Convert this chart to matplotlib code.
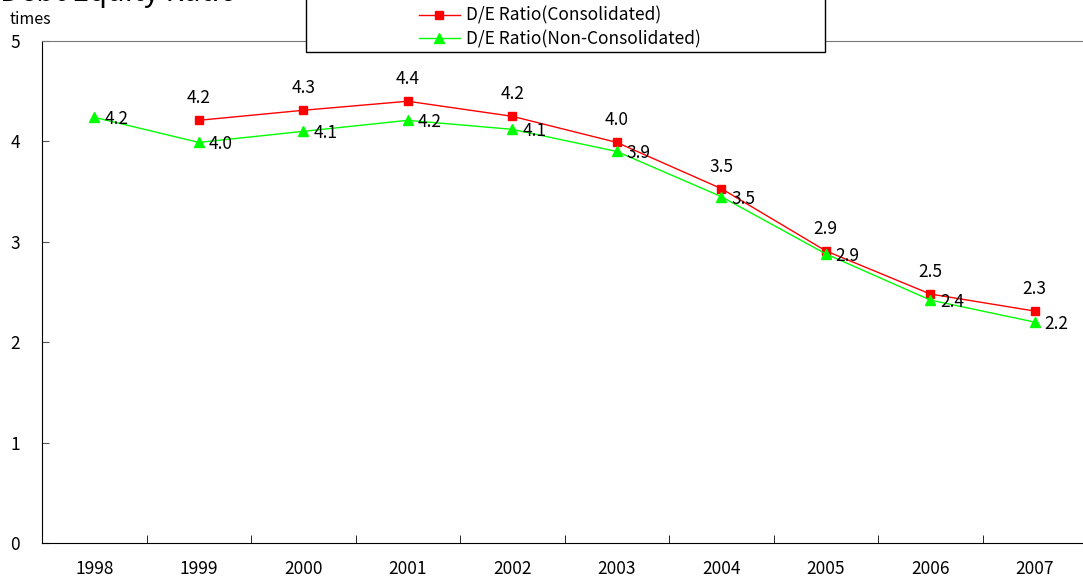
import matplotlib
matplotlib.use("Agg")
import matplotlib.pyplot as plt
from matplotlib.patches import Rectangle

plt.rcParams['font.family'] = ['Noto Sans CJK JP', 'DejaVu Sans']

# --- Data ---
years = ["1998", "1999", "2000", "2001", "2002", "2003", "2004", "2005", "2006", "2007"]
consolidated = [None, 4.21, 4.31, 4.40, 4.25, 3.99, 3.53, 2.91, 2.48, 2.31]
consolidated_labels = ["", "4.2", "4.3", "4.4", "4.2", "4.0", "3.5", "2.9", "2.5", "2.3"]
non_consolidated = [4.24, 3.99, 4.10, 4.21, 4.12, 3.90, 3.45, 2.88, 2.42, 2.20]
non_consolidated_labels = ["4.2", "4.0", "4.1", "4.2", "4.1", "3.9", "3.5", "2.9", "2.4", "2.2"]

W, H = 1083, 581
fig = plt.figure(figsize=(W / 100, H / 100), dpi=100)
ax = fig.add_axes([42 / W, (H - 543) / H, (1087 - 42) / W, (543 - 41) / H])

x = list(range(len(years)))
x_c = [i for i, v in zip(x, consolidated) if v is not None]
y_c = [v for v in consolidated if v is not None]

ax.plot(x_c, y_c, color="#ff0000", linewidth=1, marker="s", markersize=5.5,
        label="D/E Ratio(Consolidated)")
ax.plot(x, non_consolidated, color="#00ff00", linewidth=1, marker="^", markersize=6.5,
        label="D/E Ratio(Non-Consolidated)")

for xi, v, lab in zip(x, consolidated, consolidated_labels):
    if v is None:
        continue
    ax.annotate(lab, (xi, v), xytext=(0, 13), textcoords="offset pixels",
                ha="center", va="bottom", fontsize=12.5, color="black")
for xi, v, lab in zip(x, non_consolidated, non_consolidated_labels):
    ax.annotate(lab, (xi, v), xytext=(10, -2), textcoords="offset pixels",
                ha="left", va="center", fontsize=12.5, color="black")

ax.set_xlim(-0.5, 9.5)
ax.set_ylim(0, 5)
ax.set_yticks([0, 1, 2, 3, 4, 5])
ax.set_xticks(x)
ax.set_xticklabels(years)
ax.set_xticks([i + 0.5 for i in x[:-1]], minor=True)
ax.tick_params(axis="x", which="major", length=0, pad=12, labelsize=12.5)
ax.tick_params(axis="x", which="minor", direction="in", length=6, color="black")
ax.tick_params(axis="y", direction="in", length=5, pad=16, labelsize=12.5, color="#555555")

ax.spines["left"].set_color("black")
ax.spines["bottom"].set_color("black")
ax.spines["top"].set_color("#777777")
ax.spines["right"].set_visible(False)

# title and unit (title sits partly above the image edge, as in the source)
fig.text(0, 1 - 1 / H, "Debt Equity Ratio", fontsize=21, ha="left", va="baseline")
fig.text(10 / W, 1 - 19 / H, "times", fontsize=11.5, ha="left", va="center")

# legend box
fig.patches.append(Rectangle((306 / W, 1 - 52 / H), (825 - 306) / W, 60 / H,
                             transform=fig.transFigure, facecolor="white",
                             edgecolor="black", linewidth=1, zorder=5))
leg = fig.legend(loc="upper left", bbox_to_anchor=(403 / W, 1 + 9 / H), frameon=False,
                 fontsize=12.5, handlelength=2.4, handletextpad=0.3, labelspacing=0.3)
leg.set_zorder(6)

fig.savefig("out.png", dpi=100)
